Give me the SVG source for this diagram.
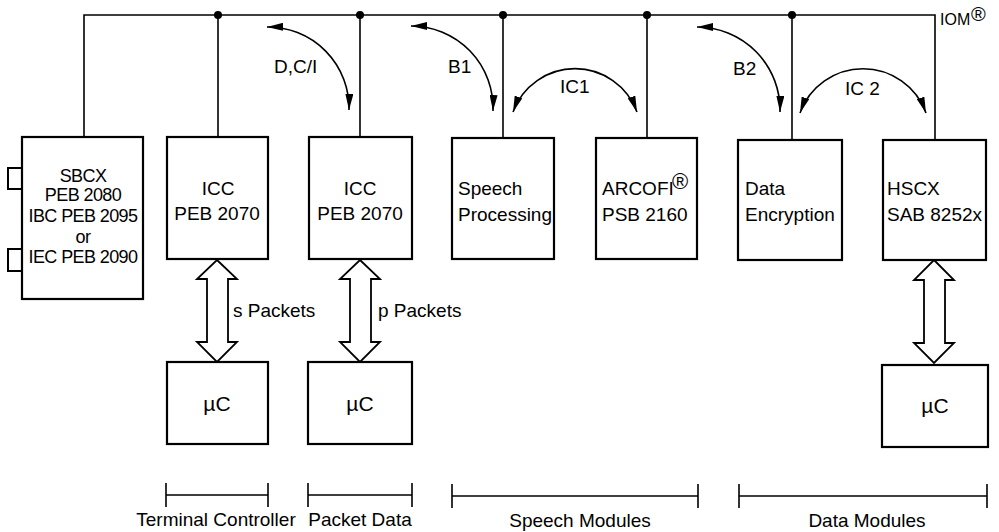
<svg xmlns="http://www.w3.org/2000/svg" width="999" height="532" viewBox="0 0 999 532">
<style>
.box{fill:#fff;stroke:#000;stroke-width:2.2}
.ln{fill:none;stroke:#000;stroke-width:1.6}
.arc{fill:none;stroke:#000;stroke-width:1.6}
.dbl{fill:#fff;stroke:#000;stroke-width:1.8;stroke-linejoin:miter}
.t{font-family:"Liberation Sans",Arial,sans-serif;font-size:19px;fill:#000}
.h{font-family:"Liberation Sans",Arial,sans-serif;font-size:18px;fill:#000;letter-spacing:-0.6px}
.m{text-anchor:middle}
.sup{font-family:"Liberation Sans",Arial,sans-serif;font-size:22px;fill:#000}
</style>
<defs>
<marker id="ah" viewBox="0 0 16 8" refX="16" refY="4" markerWidth="16" markerHeight="8" markerUnits="userSpaceOnUse" orient="auto-start-reverse">
<path d="M0,0 L16,4 L0,8 Z" fill="#000"/>
</marker>
</defs>

<g id="connectors">
<polyline class="ln" points="84,137 84,15 935,15 935,140"/>
<line class="ln" x1="218" y1="15" x2="218" y2="137"/>
<line class="ln" x1="360" y1="15" x2="360" y2="137"/>
<line class="ln" x1="503" y1="15" x2="503" y2="137"/>
<line class="ln" x1="647" y1="15" x2="647" y2="138"/>
<line class="ln" x1="792" y1="15" x2="792" y2="140"/>
<circle cx="218" cy="15" r="4"/>
<circle cx="360" cy="15" r="4"/>
<circle cx="503" cy="15" r="4"/>
<circle cx="647" cy="15" r="4"/>
<circle cx="792" cy="15" r="4"/>
<path class="arc" d="M267,27 A81,81 0 0 1 349,110" marker-start="url(#ah)" marker-end="url(#ah)"/>
<path class="arc" d="M411,26 A82,82 0 0 1 493,111" marker-start="url(#ah)" marker-end="url(#ah)"/>
<path class="arc" d="M513,112 A66,66 0 0 1 637,112" marker-start="url(#ah)" marker-end="url(#ah)"/>
<path class="arc" d="M697,27 A83,83 0 0 1 780,112" marker-start="url(#ah)" marker-end="url(#ah)"/>
<path class="arc" d="M800,113 A67,67 0 0 1 926,113" marker-start="url(#ah)" marker-end="url(#ah)"/>
<polygon class="dbl" points="217,260 237,279 228,279 228,342 237,342 217,362 197,342 207,342 207,279 197,279"/>
<polygon class="dbl" points="360,260 380,279 371,279 371,342 380,342 360,362 340,342 350,342 350,279 340,279"/>
<polygon class="dbl" points="934,260 954,280 945,280 945,343 954,343 934,363 914,343 924,343 924,280 914,280"/>
<g id="brackets">
<path class="ln" d="M166,495 H268 M166,483 V507 M268,483 V507"/>
<path class="ln" d="M308,495 H412 M308,483 V507 M412,483 V507"/>
<path class="ln" d="M452,496 H698 M452,484 V508 M698,484 V508"/>
<path class="ln" d="M739,496 H987 M739,484 V508 M987,484 V508"/>
</g>
</g>

<g id="labels">
<text class="t" x="274" y="73">D,C/I</text>
<text class="t" x="448" y="73">B1</text>
<text class="t" x="560" y="93">IC1</text>
<text class="t" x="733" y="75">B2</text>
<text class="t" x="845" y="95">IC 2</text>
<text class="t" x="940" y="25" style="font-size:16px">IOM</text>
<text class="sup" x="971" y="21" style="font-size:20px">®</text>
<text class="t" x="233" y="317">s Packets</text>
<text class="t" x="378" y="317">p Packets</text>
<text class="t m" x="216" y="526">Terminal Controller</text>
<text class="t m" x="360" y="526">Packet Data</text>
<text class="t m" x="580" y="527">Speech Modules</text>
<text class="t m" x="867" y="527">Data Modules</text>
</g>

<g id="sbcx">
<rect class="ln" x="8" y="168" width="14" height="21" style="stroke-width:2"/>
<rect class="ln" x="8" y="249" width="14" height="22" style="stroke-width:2"/>
<rect class="box" x="22" y="137" width="121" height="162"/>
<text class="h m" x="83" y="182">SBCX</text>
<text class="h m" x="83" y="201">PEB 2080</text>
<text class="h m" x="83" y="222">IBC PEB 2095</text>
<text class="h m" x="83" y="243">or</text>
<text class="h m" x="83" y="263">IEC PEB 2090</text>
</g>

<g id="icc1">
<rect class="box" x="167" y="137" width="101" height="122"/>
<text class="t m" x="218" y="195">ICC</text>
<text class="t m" x="217" y="220">PEB 2070</text>
</g>

<g id="icc2">
<rect class="box" x="309" y="137" width="103" height="122"/>
<text class="t m" x="360" y="195">ICC</text>
<text class="t m" x="360" y="220">PEB 2070</text>
</g>

<g id="speech">
<rect class="box" x="452" y="138" width="102" height="121"/>
<text class="t" x="458" y="195">Speech</text>
<text class="t" x="458" y="221">Processing</text>
</g>

<g id="arcofi">
<rect class="box" x="596" y="138" width="101" height="121"/>
<text class="t" x="602" y="195">ARCOFI</text>
<text class="sup" x="672" y="189">®</text>
<text class="t" x="602" y="221">PSB 2160</text>
</g>

<g id="data">
<rect class="box" x="738" y="140" width="104" height="120"/>
<text class="t" x="745" y="195">Data</text>
<text class="t" x="745" y="221">Encryption</text>
</g>

<g id="hscx">
<rect class="box" x="883" y="140" width="103" height="120"/>
<text class="t" x="887" y="195">HSCX</text>
<text class="t" x="887" y="221">SAB 8252x</text>
</g>

<g id="uc1">
<rect class="box" x="167" y="362" width="101" height="82"/>
<text class="t m" x="217" y="411" style="font-size:21px">µC</text>
</g>
<g id="uc2">
<rect class="box" x="308" y="362" width="104" height="82"/>
<text class="t m" x="360" y="411" style="font-size:21px">µC</text>
</g>
<g id="uc3">
<rect class="box" x="882" y="365" width="106" height="82"/>
<text class="t m" x="935" y="413" style="font-size:21px">µC</text>
</g>
</svg>
